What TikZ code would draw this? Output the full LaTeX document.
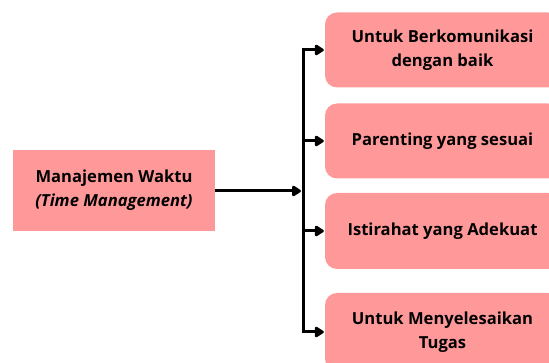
\documentclass[tikz,border=0pt]{standalone}
\usepackage{fontspec}
\setmainfont{Open Sans}
\usetikzlibrary{arrows.meta}
\definecolor{boxpink}{HTML}{FF9999}
\tikzset{
  x=1pt, y=-1pt,
  leftbox/.style={fill=boxpink, draw=none, minimum width=202pt, minimum height=81pt, align=center, font=\fontsize{16.6}{24}\selectfont\bfseries},
  rightbox/.style={fill=boxpink, draw=none, rounded corners=12pt, minimum width=235pt, minimum height=75pt, align=center, font=\fontsize{16.6}{24.5}\selectfont\bfseries},
  arr/.style={line width=3pt, -{Triangle[width=12pt,length=10pt,round]}},
  spine/.style={line width=3pt}
}
\begin{document}
\begin{tikzpicture}
\useasboundingbox (0,0) rectangle (549,363);
\clip (0,0) rectangle (549,363);
\node[leftbox] (main) at (114,190.5) {Manajemen Waktu\\\textit{(Time Management)}};
\node[rightbox] (b1) at (442.5,50) {Untuk Berkomunikasi\\dengan baik};
\node[rightbox] (b2) at (442.5,141) {Parenting yang sesuai};
\node[rightbox, minimum height=76pt] (b3) at (442.5,231) {Istirahat yang Adekuat};
\node[rightbox, minimum height=78pt] (b4) at (442.5,332) {Untuk Menyelesaikan\\Tugas};
\coordinate (hub) at (303,191);
\coordinate (top) at (303,50);
\coordinate (bot) at (303,332);
\draw[arr] (main.east |- hub) -- ([xshift=-2pt]hub);
\draw[spine, line cap=rect] (top) -- (bot);
\draw[arr] (top) -- ([xshift=-1pt]b1.west);
\draw[arr] (hub |- b2.west) -- ([xshift=-1pt]b2.west);
\draw[arr] (hub |- b3.west) -- ([xshift=-1pt]b3.west);
\draw[arr] (bot) -- ([xshift=-1pt]b4.west);
\end{tikzpicture}
\end{document}
